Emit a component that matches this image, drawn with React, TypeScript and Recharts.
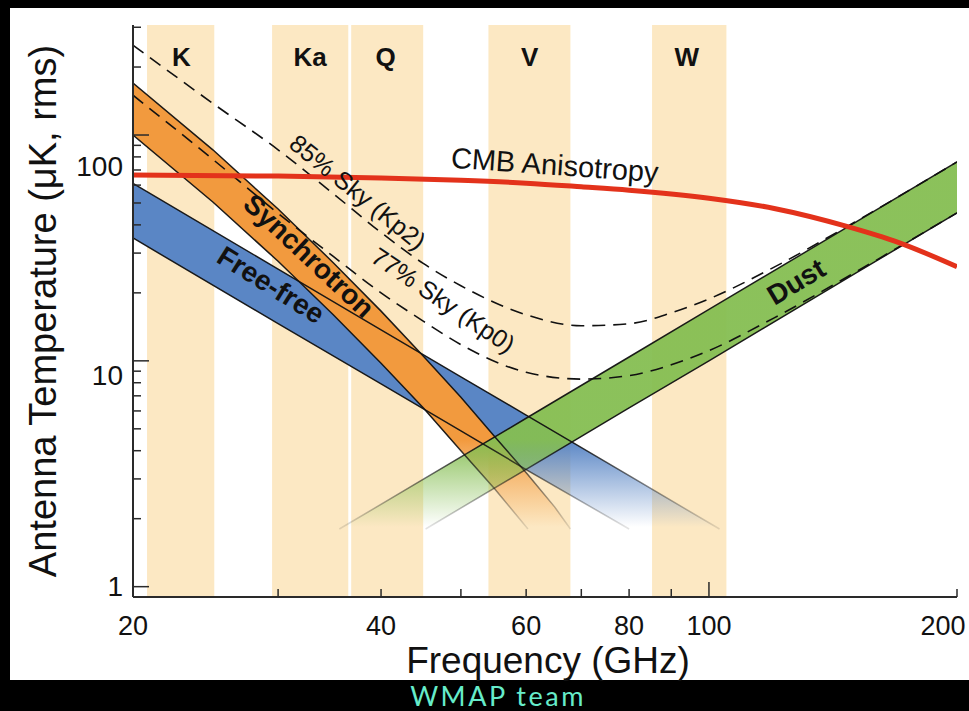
import React from 'react';
import {
  ComposedChart, XAxis, YAxis, Area, Line, ReferenceArea, ReferenceDot, Label,
} from 'recharts';

const FONT = '"Liberation Sans", Arial, Helvetica, sans-serif';
const AXIS = '#2a2a2a';
const INK = '#111';

// WMAP channels (GHz)
const BAND_NAMES = ['K', 'Ka', 'Q', 'V', 'W'];
const BAND_FROM = [20.8, 29.5, 36.8, 54.0, 85.3];
const BAND_TO = [25.1, 36.5, 45.0, 67.9, 105];
const BAND_MID = [22.9, 32.8, 40.5, 60.6, 94];

const X_TICKS = [20, 30, 40, 50, 60, 70, 80, 90, 100, 200];
const X_LABELS = [20, 40, 60, 80, 100, 200];
const Y_TICKS = [1, 2, 3, 4, 5, 6, 7, 8, 9, 10, 20, 30, 40, 50, 60, 70, 80, 90, 100, 200, 300];
const Y_LABELS = [1, 10, 100];

// CMB anisotropy, uK rms
const CMB_FREQ = [20, 30, 40, 50, 60, 70, 80, 100, 120, 147, 170, 200];
const CMB_T = [66.5, 65.8, 64.5, 63, 61.2, 59, 57, 52.5, 47.3, 39.4, 33.4, 26.1];

// total foreground for the two sky cuts
const SKY_FREQ = [20, 25, 30, 35, 40, 45, 50, 60, 70, 80, 90, 100, 120, 150, 200];
const KP2_T = [250, 138, 86, 55, 37, 27, 21.5, 16, 14.3, 14.6, 16.3, 18.8, 26, 41, 76];
const KP0_T = [150, 78, 45, 29, 20, 15, 11.8, 8.9, 8.3, 8.6, 9.6, 11.1, 15.5, 24.5, 45.2];

// foreground bands: upper / lower edge (null = edge already ended)
const SYNC_FREQ = [20, 25, 30, 35, 40, 45, 50, 55, 60.3, 65, 67.9];
const SYNC_HI = [170, 86, 47, 27.2, 16.6, 10.5, 6.9, 4.6, 3.13, 2.25, 1.8];
const SYNC_LO = [100, 50.5, 27.6, 16, 9.75, 6.2, 4.0, 2.7, 1.8, null, null];

const FF_FREQ = [20, 30, 40, 50, 60, 80, 103];
const FF_HI = [61, 25.5, 13.7, 8.5, 5.75, 3.1, 1.8];
const FF_LO = [35, 14.6, 7.9, 4.9, 3.3, 1.8, null];

const DUST_FREQ = [35.6, 45.3, 60, 80, 100, 150, 200];
const DUST_HI = [1.8, 3.03, 5.57, 10.4, 16.9, 40.7, 76];
const DUST_LO = [null, 1.8, 3.31, 6.19, 10.0, 24.2, 45.2];

const FLOOR = 1.8; // where the bands are cut off

const Y_LABEL_NUDGE: Record<number, number> = { 1: 0, 10: 15, 100: 31 };

const bandRows = (f: number[], hi: number[], lo: (number | null)[]) =>
  f.map((v, i) => ({ f: v, hi: hi[i], lo: lo[i], range: [lo[i] ?? FLOOR, hi[i]] }));

const XTick = (top: boolean) => (p: any) => {
  const v = p.payload.value;
  const len = v === 100 ? 15 : 8;
  const dir = top ? 1 : -1;
  return (
    <g>
      <line x1={p.x} y1={p.y} x2={p.x} y2={p.y + dir * len} stroke={AXIS} strokeWidth={1.5} />
      {!top && X_LABELS.includes(v) && (
        <text x={p.x + (v === 200 ? -14 : 0)} y={p.y + 29} textAnchor="middle"
          dominantBaseline="central" fontFamily={FONT} fontSize={27} fill={INK}>{v}</text>
      )}
    </g>
  );
};

const YTick = (left: boolean) => (p: any) => {
  const v = p.payload.value;
  const major = Y_LABELS.includes(v);
  const len = major ? 16 : 8;
  const dir = left ? 1 : -1;
  return (
    <g>
      <line x1={p.x} y1={p.y} x2={p.x + dir * len} y2={p.y} stroke={AXIS} strokeWidth={1.5} />
      {left && major && (
        <text x={p.x - 10} y={p.y + Y_LABEL_NUDGE[v]} textAnchor="end"
          dominantBaseline="central" fontFamily={FONT} fontSize={28} fill={INK}>{v}</text>
      )}
    </g>
  );
};

const ann = (text: string, angle: number, size: number, bold = false) => (p: any) => {
  const vb = p.viewBox || {};
  const x = (vb.x ?? 0) + (vb.width ?? 0) / 2;
  const y = (vb.y ?? 0) + (vb.height ?? 0) / 2;
  return (
    <text x={x} y={y} transform={`rotate(${angle} ${x} ${y})`} textAnchor="middle"
      dominantBaseline="central" fontFamily={FONT} fontSize={size}
      fontWeight={bold ? 'bold' : 'normal'} fill={INK}>{text}</text>
  );
};

const fade = (id: string, color: string, from: number, to: number) => (
  <linearGradient id={id} gradientUnits="userSpaceOnUse" x1="0" y1="440" x2="0" y2="527">
    <stop offset="0" stopColor={color} stopOpacity={from} />
    <stop offset="1" stopColor={color} stopOpacity={to} />
  </linearGradient>
);

export default function App() {
  const cmb = CMB_FREQ.map((f, i) => ({ f, t: CMB_T[i] }));
  const sky = SKY_FREQ.map((f, i) => ({ f, kp2: KP2_T[i], kp0: KP0_T[i] }));
  const sync = bandRows(SYNC_FREQ, SYNC_HI, SYNC_LO);
  const ff = bandRows(FF_FREQ, FF_HI, FF_LO);
  const dust = bandRows(DUST_FREQ, DUST_HI, DUST_LO);

  const edge = { stroke: 'url(#fadeEdge)', strokeWidth: 1.5, dot: false, activeDot: false, isAnimationActive: false };
  const dashed = {
    type: 'monotone' as const, stroke: INK, strokeWidth: 1.6, strokeDasharray: '13 8',
    dot: false, activeDot: false, isAnimationActive: false,
  };

  return (
    <div style={{ position: 'absolute', left: 0, top: 0, width: 969, height: 711, background: '#000', overflow: 'hidden' }}>
      <div style={{ position: 'absolute', left: 10, top: 8, width: 959, height: 672, background: '#fff' }} />
      <div style={{ position: 'absolute', left: 0, top: 0 }}>
        <ComposedChart width={969} height={711} data={cmb} margin={{ top: 25, right: 12, bottom: 0, left: 0 }}>
          <defs>
            {fade('fadeSync', '#f29a3e', 1, 0)}
            {fade('fadeFF', '#5a86c5', 1, 0)}
            {fade('fadeDust', '#85be52', 1, 0)}
            {fade('fadeEdge', '#111', 0.95, 0.12)}
          </defs>

          <XAxis dataKey="f" type="number" scale="log" domain={[20, 200]} allowDataOverflow
            ticks={X_TICKS} interval={0} height={114} tickSize={0} tickMargin={0}
            tickLine={false} tick={XTick(false)} axisLine={{ stroke: AXIS, strokeWidth: 2 }}>
            <Label content={(p: any) => (
              <text x={p.viewBox.x + p.viewBox.width / 2 + 3} y={p.viewBox.y + 63} textAnchor="middle"
                dominantBaseline="central" fontFamily={FONT} fontSize={37} fill={INK}>Frequency (GHz)</text>
            )} />
          </XAxis>
          <XAxis xAxisId="top" orientation="top" dataKey="f" type="number" scale="log" domain={[20, 200]}
            allowDataOverflow ticks={X_TICKS} interval={0} height={0} tickSize={0} tickMargin={0}
            tickLine={false} tick={XTick(true)} axisLine={{ stroke: AXIS, strokeWidth: 2 }} />
          <YAxis type="number" scale="log" domain={[0.9, 307]} allowDataOverflow ticks={Y_TICKS}
            interval={0} width={133} tickSize={0} tickMargin={0} tickLine={false} tick={YTick(true)}
            axisLine={{ stroke: AXIS, strokeWidth: 2 }}>
            <Label content={(p: any) => {
              const x = 43;
              const y = p.viewBox.y + p.viewBox.height / 2;
              return (
                <text x={x} y={y} transform={`rotate(-90 ${x} ${y})`} textAnchor="middle"
                  dominantBaseline="central" fontFamily={FONT} fontSize={38} fill={INK}>
                  Antenna Temperature (μK, rms)
                </text>
              );
            }} />
          </YAxis>
          <YAxis yAxisId="right" orientation="right" type="number" scale="log" domain={[0.9, 307]}
            allowDataOverflow ticks={Y_TICKS} interval={0} width={0} tickSize={0} tickMargin={0}
            tickLine={false} tick={YTick(false)} axisLine={{ stroke: AXIS, strokeWidth: 2 }} />

          {BAND_NAMES.map((name, i) => (
            <ReferenceArea key={name} x1={BAND_FROM[i]} x2={BAND_TO[i]} fill="#fce8c3" fillOpacity={1} stroke="none" />
          ))}

          <Area data={ff} dataKey="range" fill="url(#fadeFF)" fillOpacity={1} stroke="none" isAnimationActive={false} />
          <Area data={sync} dataKey="range" fill="url(#fadeSync)" fillOpacity={1} stroke="none" isAnimationActive={false} />
          <Area data={dust} dataKey="range" fill="url(#fadeDust)" fillOpacity={0.95} stroke="none" isAnimationActive={false} />

          <Line data={ff} dataKey="hi" {...edge} />
          <Line data={ff} dataKey="lo" {...edge} />
          <Line data={sync} dataKey="hi" {...edge} />
          <Line data={sync} dataKey="lo" {...edge} />
          <Line data={dust} dataKey="hi" {...edge} />
          <Line data={dust} dataKey="lo" {...edge} />

          <Line data={sky} dataKey="kp2" {...dashed} />
          <Line data={sky} dataKey="kp0" {...dashed} />

          <Line dataKey="t" type="monotone" stroke="#e3321b" strokeWidth={5} dot={false} activeDot={false} isAnimationActive={false} />

          {BAND_NAMES.map((name, i) => (
            <ReferenceDot key={`lbl-${name}`} x={BAND_MID[i]} y={221} r={0} fill="none" stroke="none"
              label={ann(name, 0, 26, true)} />
          ))}
          <ReferenceDot x={65} y={73.7} r={0} fill="none" stroke="none" label={ann('CMB Anisotropy', 4, 29)} />
          <ReferenceDot x={32.7} y={29.2} r={0} fill="none" stroke="none" label={ann('Synchrotron', 43, 28, true)} />
          <ReferenceDot x={29.4} y={21.7} r={0} fill="none" stroke="none" label={ann('Free-free', 32, 28, true)} />
          <ReferenceDot x={127.6} y={22.4} r={0} fill="none" stroke="none" label={ann('Dust', -31, 28, true)} />
          <ReferenceDot x={37.5} y={56} r={0} fill="none" stroke="none" label={ann('85% Sky (Kp2)', 39, 25)} />
          <ReferenceDot x={47.6} y={18.6} r={0} fill="none" stroke="none" label={ann('77% Sky (Kp0)', 34, 25)} />
        </ComposedChart>
      </div>
      <div style={{
        position: 'absolute', left: 0, top: 681, width: 996, textAlign: 'center', color: '#66ecca',
        fontFamily: 'Lato, "Open Sans", sans-serif', fontSize: 27, lineHeight: '29px', letterSpacing: 2.5,
      }}>WMAP team</div>
    </div>
  );
}
